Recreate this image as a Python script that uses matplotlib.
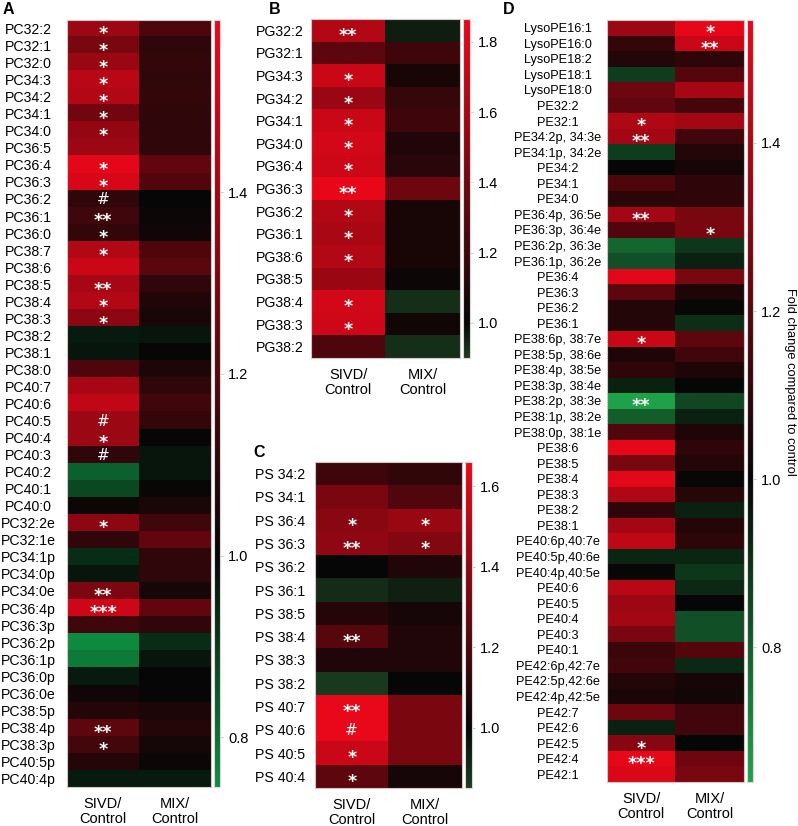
"""Lipid fold-change heatmaps (SIVD/Control and MIX/Control)

Four panels: PC (A), PG (B), PS (C) and PE / LysoPE (D) species,
each with its own colour bar. Output is written to out.png.
"""

import numpy as np
import matplotlib
matplotlib.use('Agg')
import matplotlib.pyplot as plt
from matplotlib.colors import LinearSegmentedColormap, Normalize
from matplotlib.transforms import offset_copy

plt.rcParams['font.family'] = ['Liberation Sans', 'DejaVu Sans']

# Figure size in pixels
W, H = 798, 826

columns = ['SIVD/\nControl', 'MIX/\nControl']

# ---------------- Panel A : PC ----------------
pc_labels = ['PC32:2', 'PC32:1', 'PC32:0', 'PC34:3', 'PC34:2', 'PC34:1',
             'PC34:0', 'PC36:5', 'PC36:4', 'PC36:3', 'PC36:2', 'PC36:1',
             'PC36:0', 'PC38:7', 'PC38:6', 'PC38:5', 'PC38:4', 'PC38:3',
             'PC38:2', 'PC38:1', 'PC38:0', 'PC40:7', 'PC40:6', 'PC40:5',
             'PC40:4', 'PC40:3', 'PC40:2', 'PC40:1', 'PC40:0', 'PC32:2e',
             'PC32:1e', 'PC34:1p', 'PC34:0p', 'PC34:0e', 'PC36:4p', 'PC36:3p',
             'PC36:2p', 'PC36:1p', 'PC36:0p', 'PC36:0e', 'PC38:5p', 'PC38:4p',
             'PC38:3p', 'PC40:5p', 'PC40:4p']
pc_sivd = [1.39, 1.30, 1.38, 1.47, 1.45, 1.28, 1.37, 1.39, 1.58, 1.55,
           1.11, 1.15, 1.12, 1.45, 1.51, 1.42, 1.45, 1.35, 0.96, 0.97,
           1.19, 1.42, 1.49, 1.39, 1.39, 1.11, 0.83, 0.875, 1.02, 1.35,
           1.11, 0.925, 0.97, 1.31, 1.52, 1.15, 0.75, 0.78, 0.96, 1.03,
           1.08, 1.23, 1.16, 1.08, 0.96]
pc_mix = [1.19, 1.11, 1.12, 1.11, 1.12, 1.11, 1.11, 1.11, 1.24, 1.20,
          1.00, 1.02, 1.03, 1.19, 1.22, 1.11, 1.07, 1.05, 0.97, 1.00,
          1.06, 1.11, 1.15, 1.12, 1.00, 0.97, 0.97, 1.01, 1.05, 1.15,
          1.24, 1.11, 1.11, 1.04, 1.24, 1.11, 0.925, 0.97, 1.00, 1.00,
          1.06, 1.08, 1.04, 1.02, 0.96]
pc_marks_sivd = {'PC32:2': '*', 'PC32:1': '*', 'PC32:0': '*', 'PC34:3': '*',
                 'PC34:2': '*', 'PC34:1': '*', 'PC34:0': '*', 'PC36:4': '*',
                 'PC36:3': '*', 'PC36:2': '#', 'PC36:1': '**', 'PC36:0': '*',
                 'PC38:7': '*', 'PC38:5': '**', 'PC38:4': '*', 'PC38:3': '*',
                 'PC40:5': '#', 'PC40:4': '*', 'PC40:3': '#', 'PC32:2e': '*',
                 'PC34:0e': '**', 'PC36:4p': '***', 'PC38:4p': '**',
                 'PC38:3p': '*'}
pc_marks_mix = {}
pc_ticks = [0.8, 1.0, 1.2, 1.4]

# ---------------- Panel B : PG ----------------
pg_labels = ['PG32:2', 'PG32:1', 'PG34:3', 'PG34:2', 'PG34:1', 'PG34:0',
             'PG36:4', 'PG36:3', 'PG36:2', 'PG36:1', 'PG38:6', 'PG38:5',
             'PG38:4', 'PG38:3', 'PG38:2']
pg_sivd = [1.66, 1.34, 1.75, 1.57, 1.75, 1.78, 1.76, 1.86, 1.66, 1.63,
           1.66, 1.57, 1.78, 1.76, 1.28]
pg_mix = [0.957, 1.22, 1.07, 1.18, 1.22, 1.10, 1.13, 1.40, 1.07, 1.07,
          1.07, 1.03, 0.93, 1.04, 0.93]
pg_marks_sivd = {'PG32:2': '**', 'PG34:3': '*', 'PG34:2': '*', 'PG34:1': '*',
                 'PG34:0': '*', 'PG36:4': '*', 'PG36:3': '**', 'PG36:2': '*',
                 'PG36:1': '*', 'PG38:6': '*', 'PG38:4': '*', 'PG38:3': '*'}
pg_marks_mix = {}
pg_ticks = [1.0, 1.2, 1.4, 1.6, 1.8]

# ---------------- Panel C : PS ----------------
ps_labels = ['PS 34:2', 'PS 34:1', 'PS 36:4', 'PS 36:3', 'PS 36:2', 'PS 36:1',
             'PS 38:5', 'PS 38:4', 'PS 38:3', 'PS 38:2', 'PS 40:7', 'PS 40:6',
             'PS 40:5', 'PS 40:4']
ps_sivd = [1.165, 1.34, 1.38, 1.40, 1.00, 0.90, 1.09, 1.24, 1.08, 0.86,
           1.66, 1.66, 1.57, 1.26]
ps_mix = [1.125, 1.22, 1.43, 1.36, 1.08, 0.93, 1.05, 1.08, 1.08, 1.00,
          1.34, 1.34, 1.34, 1.05]
ps_marks_sivd = {'PS 36:4': '*', 'PS 36:3': '**', 'PS 38:4': '**',
                 'PS 40:7': '**', 'PS 40:6': '#', 'PS 40:5': '*', 'PS 40:4': '*'}
ps_marks_mix = {'PS 36:4': '*', 'PS 36:3': '*'}
ps_ticks = [1.0, 1.2, 1.4, 1.6]

# ---------------- Panel D : PE ----------------
pe_labels = ['LysoPE16:1', 'LysoPE16:0', 'LysoPE18:2', 'LysoPE18:1',
             'LysoPE18:0', 'PE32:2', 'PE32:1', 'PE34:2p, 34:3e',
             'PE34:1p, 34:2e', 'PE34:2', 'PE34:1', 'PE34:0', 'PE36:4p, 36:5e',
             'PE36:3p, 36:4e', 'PE36:2p, 36:3e', 'PE36:1p, 36:2e', 'PE36:4',
             'PE36:3', 'PE36:2', 'PE36:1', 'PE38:6p, 38:7e', 'PE38:5p, 38:6e',
             'PE38:4p, 38:5e', 'PE38:3p, 38:4e', 'PE38:2p, 38:3e',
             'PE38:1p, 38:2e', 'PE38:0p, 38:1e', 'PE38:6', 'PE38:5', 'PE38:4',
             'PE38:3', 'PE38:2', 'PE38:1', 'PE40:6p,40:7e', 'PE40:5p,40:6e',
             'PE40:4p,40:5e', 'PE40:6', 'PE40:5', 'PE40:4', 'PE40:3', 'PE40:1',
             'PE42:6p,42:7e', 'PE42:5p,42:6e', 'PE42:4p,42:5e', 'PE42:7',
             'PE42:6', 'PE42:5', 'PE42:4', 'PE42:1']
pe_sivd = [1.36, 1.11, 1.07, 0.874, 1.25, 1.22, 1.41, 1.38, 0.874, 1.00,
           1.17, 1.09, 1.38, 1.18, 0.784, 0.83, 1.53, 1.21, 1.07, 1.07,
           1.47, 1.06, 1.10, 0.94, 0.645, 0.80, 1.18, 1.54, 1.28, 1.53,
           1.41, 1.10, 1.38, 1.45, 0.93, 1.01, 1.43, 1.36, 1.38, 1.28,
           1.13, 1.14, 1.07, 1.05, 1.25, 0.94, 1.31, 1.54, 1.51]
pe_mix = [1.54, 1.47, 1.10, 1.19, 1.39, 1.15, 1.38, 1.14, 1.07, 1.04,
          1.10, 1.10, 1.28, 1.28, 0.89, 0.94, 1.28, 1.06, 1.01, 0.91,
          1.21, 1.14, 1.06, 1.00, 0.85, 0.94, 1.06, 1.10, 1.07, 1.01,
          1.08, 0.94, 1.07, 1.10, 0.93, 0.89, 0.92, 1.00, 0.83, 0.83,
          1.19, 0.92, 1.04, 1.03, 1.14, 1.14, 1.00, 1.25, 1.28]
pe_marks_sivd = {'PE32:1': '*', 'PE34:2p, 34:3e': '**', 'PE36:4p, 36:5e': '**',
                 'PE38:6p, 38:7e': '*', 'PE38:2p, 38:3e': '**', 'PE42:5': '*',
                 'PE42:4': '***'}
pe_marks_mix = {'LysoPE16:1': '*', 'LysoPE16:0': '**', 'PE36:3p, 36:4e': '*'}
pe_ticks = [0.8, 1.0, 1.2, 1.4]


def px_axes(fig, x0, y0, x1, y1):
    """Add an axes given in pixel coordinates (origin top-left)."""
    return fig.add_axes([x0 / W, 1 - y1 / H, (x1 - x0) / W, (y1 - y0) / H])


def make_cmap(vmin, vmax, green, red='#e8081a', black='#060606'):
    """Green - black - red map with black placed at fold change 1.0"""
    f = (1.0 - vmin) / (vmax - vmin)
    return LinearSegmentedColormap.from_list(
        'gbr', [(0.0, green), (f, black), (1.0, red)])


def heat_panel(fig, box, cbox, labels, sivd, mix, marks_sivd, marks_mix,
               vmin, vmax, green, ticks, label_cx, fs=10):
    """Draws one two-column heatmap with its colour bar"""
    ax = px_axes(fig, *box)
    cax = px_axes(fig, *cbox)
    data = np.column_stack([sivd, mix])
    norm = Normalize(vmin=vmin, vmax=vmax)
    im = ax.imshow(data, cmap=make_cmap(vmin, vmax, green), norm=norm,
                   aspect='auto', interpolation='nearest')

    n = len(labels)
    ax.set_yticks(range(n))
    ax.set_yticklabels(labels, fontsize=fs, ha='center')
    ax.tick_params(axis='y', length=0, pad=(box[0] - label_cx) * 0.72)
    ax.set_xticks([0, 1])
    ax.set_xticklabels(columns, fontsize=10.5, linespacing=1.15)
    ax.tick_params(axis='x', length=0, pad=7)
    for sp in ax.spines.values():
        sp.set_edgecolor('#d4c4c4')
        sp.set_linewidth(0.8)

    # significance marks (stars bold, '#' a bit smaller)
    for col, marks in enumerate([marks_sivd, marks_mix]):
        for i, lab in enumerate(labels):
            m = marks.get(lab, '')
            if not m:
                continue
            if '*' in m:
                size, weight, dy = 12.5, 'bold', -0.6 * 12.5
            else:
                size, weight, dy = 11, 'normal', -0.36 * 11
            tr = offset_copy(ax.transData, fig=fig, y=dy, units='points')
            ax.text(col, i, m, transform=tr, ha='center', va='baseline',
                    color='white', fontsize=size, fontweight=weight,
                    family='DejaVu Sans')

    cb = fig.colorbar(im, cax=cax, ticks=ticks)
    cb.ax.set_yticklabels(['%.1f' % t for t in ticks])
    cb.ax.tick_params(labelsize=10.5, length=2, width=0.6,
                      color='#c0c0c0', pad=4)
    cb.outline.set_edgecolor('#d8d8d8')
    cb.outline.set_linewidth(0.8)
    return ax


fig = plt.figure(figsize=(W / 100, H / 100), dpi=100)

heat_panel(fig, (67, 20, 211, 787), (214, 20, 220, 787),
           pc_labels, pc_sivd, pc_mix, pc_marks_sivd, pc_marks_mix,
           0.745, 1.59, '#0f8c40', pc_ticks, 28, fs=10.2)
heat_panel(fig, (311, 19, 460, 358), (463, 19, 470, 358),
           pg_labels, pg_sivd, pg_mix, pg_marks_sivd, pg_marks_mix,
           0.90, 1.865, '#1b3d1f', pg_ticks, 280, fs=10.2)
heat_panel(fig, (315, 462, 462, 788), (465, 462, 472, 788),
           ps_labels, ps_sivd, ps_mix, ps_marks_sivd, ps_marks_mix,
           0.85, 1.66, '#1a3d20', ps_ticks, 280, fs=10.2)
heat_panel(fig, (607, 20, 744, 782), (747, 20, 753, 782),
           pe_labels, pe_sivd, pe_mix, pe_marks_sivd, pe_marks_mix,
           0.64, 1.546, '#1fa34a', pe_ticks, 558, fs=9.2)

fig.text(790 / W, 1 - 382 / H, 'Fold change compared to control',
         rotation=270, ha='center', va='center', fontsize=9.3)

# panel letters
for letter, x, y in [('A', 3, 9), ('B', 269, 9), ('C', 253, 452),
                     ('D', 503, 9)]:
    fig.text(x / W, 1 - y / H, letter, fontsize=11.5, fontweight='bold',
             ha='left', va='center')

fig.savefig('out.png', dpi=100)
